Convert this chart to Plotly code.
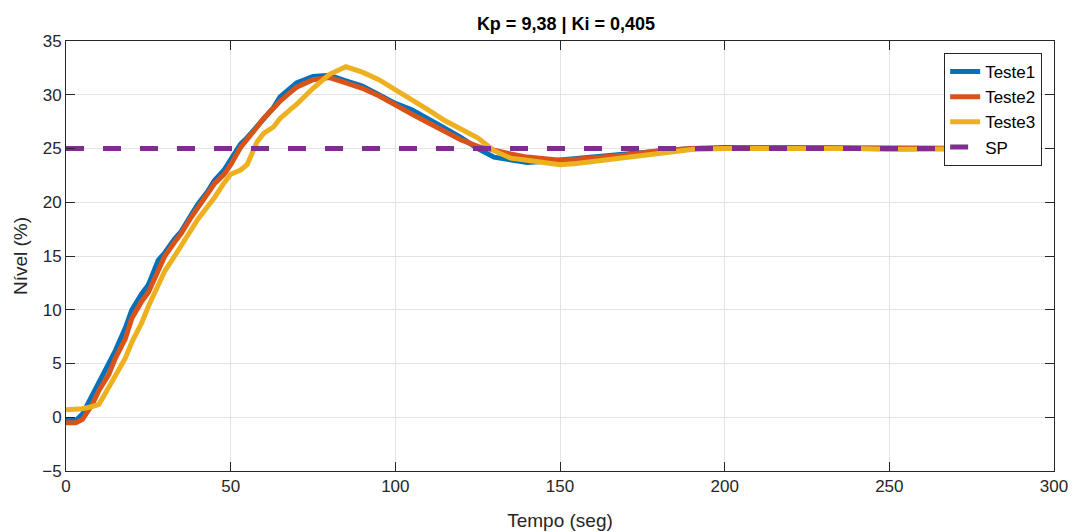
import plotly.graph_objects as go

time_s = [0, 3, 5, 8, 10, 13, 15, 18, 20, 23, 25, 28, 30, 33, 35, 38, 40, 43, 45, 48,
          50, 53, 55, 58, 60, 63, 65, 68, 70, 75, 80, 85, 90, 95, 100, 105, 110, 115,
          120, 125, 130, 135, 140, 145, 150, 155, 160, 170, 180, 190, 200, 210, 220,
          230, 240, 250, 260, 270, 280, 290]

teste1 = [-0.3, -0.3, 0.3, 2.0, 3.3, 4.9, 6.2, 8.3, 10.0, 11.5, 12.3, 14.6, 15.3, 16.6,
          17.3, 18.8, 19.8, 21.0, 22.0, 23.0, 24.0, 25.4, 26.0, 27.0, 27.8, 28.8, 29.8,
          30.6, 31.1, 31.7, 31.8, 31.3, 30.8, 30.0, 29.2, 28.6, 27.8, 26.9, 26.0, 25.0,
          24.2, 23.9, 23.7, 23.8, 23.9, 24.0, 24.2, 24.5, 24.8, 25.0, 25.1, 25.1, 25.0,
          25.1, 25.0, 25.0, 25.0, 25.0, 25.0, 25.0]

teste2 = [-0.5, -0.5, -0.2, 1.2, 2.5, 4.0, 5.5, 7.3, 9.2, 10.8, 11.6, 13.8, 15.0, 16.3,
          17.1, 18.6, 19.5, 20.7, 21.7, 22.6, 23.5, 25.1, 25.8, 27.0, 27.8, 28.8, 29.4,
          30.2, 30.7, 31.4, 31.6, 31.1, 30.6, 29.9, 29.0, 28.2, 27.4, 26.6, 25.8, 25.2,
          24.8, 24.5, 24.2, 24.0, 23.9, 24.0, 24.1, 24.4, 24.8, 25.0, 25.0, 25.1, 25.0,
          25.1, 25.0, 25.0, 25.0, 25.0, 25.0, 25.0]

teste3 = [0.7, 0.7, 0.8, 1.0, 1.2, 2.8, 3.8, 5.5, 7.0, 8.8, 10.3, 12.3, 13.6, 15.0, 16.0,
          17.4, 18.4, 19.6, 20.4, 21.8, 22.6, 23.0, 23.5, 25.6, 26.4, 27.0, 27.8, 28.6,
          29.1, 30.6, 31.9, 32.6, 32.1, 31.4, 30.5, 29.6, 28.6, 27.6, 26.8, 26.0, 24.8,
          24.1, 23.9, 23.7, 23.5, 23.6, 23.8, 24.1, 24.5, 24.9, 25.0, 25.0, 25.0, 25.1,
          25.0, 24.9, 24.9, 25.0, 25.0, 25.0]

sp_time = [0, 290]
sp_value = [25, 25]

x_ticks = [0, 50, 100, 150, 200, 250, 300]
y_ticks = [-5, 0, 5, 10, 15, 20, 25, 30, 35]

FONT = "Liberation Sans, Arial, sans-serif"
TXT = "#262626"

fig = go.Figure()
for name, ys, color in [("Teste1", teste1, "#0072BD"),
                        ("Teste2", teste2, "#D95319"),
                        ("Teste3", teste3, "#EDB120")]:
    fig.add_trace(go.Scatter(x=time_s, y=ys, mode="lines", name=name,
                             line=dict(color=color, width=5)))
fig.add_trace(go.Scatter(x=sp_time, y=sp_value, mode="lines", name="SP",
                         line=dict(color="#7E2F8E", width=5, dash="18px,19px")))

axis_common = dict(showgrid=True, gridcolor="#E3E3E3", gridwidth=1,
                   showline=True, linecolor="#262626", linewidth=1, mirror="ticks",
                   ticks="inside", ticklen=9, tickcolor="#262626", automargin=False,
                   tickfont=dict(family=FONT, size=17, color=TXT), zeroline=False)

fig.update_xaxes(range=[0, 300], tickvals=x_ticks,
                 title=dict(text="Tempo (seg)", font=dict(family=FONT, size=19, color=TXT),
                            standoff=18), **axis_common)
fig.update_yaxes(range=[-5, 35], tickvals=y_ticks,
                 title=dict(text="Nível (%)", font=dict(family=FONT, size=19, color=TXT),
                            standoff=9), **axis_common)

fig.update_layout(
    width=1078, height=532,
    margin=dict(l=66, r=24, t=41, b=61),
    paper_bgcolor="white", plot_bgcolor="white",
    title=dict(text="<b>Kp = 9,38 | Ki = 0,405</b>", x=0.525, xanchor="center",
               y=1 - 24 / 532, yanchor="middle",
               font=dict(family=FONT, size=18, color="#000000")),
    legend=dict(x=0.988, xanchor="right", y=0.972, yanchor="top",
                bgcolor="white", bordercolor="#262626", borderwidth=1,
                font=dict(family=FONT, size=17, color="#000000"),
                itemwidth=30, tracegroupgap=0),
    showlegend=True,
)

fig.write_html("out.html")
